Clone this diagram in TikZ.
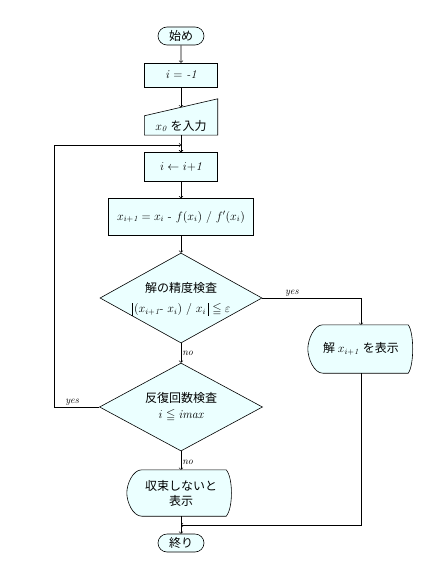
\documentclass[tikz,border=0pt]{standalone}
\usepackage{amsmath}
\usepackage{amssymb}
\usepackage{fontspec}
\newfontfamily\jp{Noto Sans CJK JP}
\usetikzlibrary{shapes.geometric,shapes.misc}
\usetikzlibrary{positioning}
\definecolor{boxfill}{RGB}{235,255,255}
\newcommand{\absbar}{\rule[-3.5pt]{0.5pt}{13pt}}
\tikzset{
  flow/.style={line width=0.6pt},
  arr/.style={flow,-to},
  procbox/.style={draw,flow,fill=boxfill,rectangle,inner sep=0pt},
  termbox/.style={draw,flow,fill=boxfill,rounded rectangle,inner sep=0pt,minimum width=46pt,minimum height=18pt},
  testbox/.style={draw,flow,fill=boxfill,diamond,inner sep=0pt,align=center},
  hidbox/.style={inner sep=0pt,align=center},
  lbl/.style={font=\fontsize{10}{12}\selectfont\itshape,inner sep=1pt}
}

\begin{document}
\begin{tikzpicture}[x=1pt,y=1pt,font=\fontsize{12}{15}\selectfont]
          \useasboundingbox (0,0) rectangle (442,-580);
          % column of steps
          \node[termbox] (start) at (181,-36){\jp 始め};
          \node[procbox, minimum width=73pt, minimum height=24pt] (init) at (181,-75){\textit{i} = \textit{-1}};
          \node[hidbox, minimum width=73pt, minimum height=36pt] (inp) at (181,-117){};
          \draw[flow, fill=boxfill] (inp.south west) -- ([yshift=-17pt]inp.north west) -- (inp.north east) -- (inp.south east) -- cycle;
          \node[hidbox] (inptxt) at (181,-126){$x_{\mathit{0}}$ {\jp を入力}};
          \coordinate (join) at (181,-145);
          \node[procbox, minimum width=73pt, minimum height=29pt] (incr) at (181,-167){$i \leftarrow i{+}\mathit{1}$};
          \node[procbox, minimum width=145pt, minimum height=37pt] (newton) at (181,-217){$x_{i+\mathit{1}} = x_i$ - $f(x_i)$ / $f'(x_i)$};
          \node[testbox, minimum width=162pt, minimum height=90pt] (chk1) at (181,-298){};
          \node[hidbox] (chk1txt) at (181,-299){{\jp 解の精度検査}\\[5pt]\absbar\,$(x_{i+\mathit{1}}$- $x_i)$ / $x_i$\,\absbar\ $\leqq \varepsilon$};
          \node[testbox, minimum width=163pt, minimum height=88pt] (chk2) at (181,-407){};
          \node[hidbox] (chk2txt) at (181,-407){{\jp 反復回数検査}\\[1pt]$i \leqq \mathit{imax}$};
          \node[hidbox, minimum width=106pt, minimum height=48pt] (ok) at (361,-349){};
          \node[hidbox, minimum width=108pt, minimum height=46pt] (ng) at (181,-493){};
          \node[termbox] (stop) at (181,-543){\jp 終り};
          \coordinate (merge) at (181,-525);
          % display shapes
          \draw[flow, fill=boxfill] ([xshift=15pt]ok.north west) -- ([xshift=-6pt]ok.north east)
            .. controls +(6,-8) and +(6,8) .. ([xshift=-6pt]ok.south east)
            -- ([xshift=15pt]ok.south west)
            .. controls +(-9,0) and +(0,-9) .. (ok.west)
            .. controls +(0,9) and +(-9,0) .. cycle;
          \node[hidbox] (oktxt) at (ok) {\jp 解 \rm$x_{i+\mathit{1}}$ \jp を表示};
          \draw[flow, fill=boxfill] ([xshift=15pt]ng.north west) -- ([xshift=-9pt]ng.north east)
            .. controls +(7,-8) and +(7,8) .. ([xshift=-9pt]ng.south east)
            -- ([xshift=15pt]ng.south west)
            .. controls +(-9,0) and +(0,-9) .. (ng.west)
            .. controls +(0,9) and +(-9,0) .. cycle;
          \node[hidbox] (ngtxt) at (ng) {\jp 収束しないと\\\jp 表示};
          % connectors
          \draw[arr] (start) -- (init);
          \draw[arr] (init) -- ([yshift=-8.5pt]inp.north);
          \draw[arr] (inp) -- (incr);
          \draw[arr] (join) -- (incr);
          \draw[arr] (incr) -- (newton);
          \draw[arr] (newton) -- (chk1);
          \draw[arr] (chk1.east) -| node[lbl, pos=0.15, above]{yes} (ok.north);
          \draw[arr] (chk1) -- node[lbl, right]{no} (chk2);
          \draw[arr] (chk2.west) -| node[lbl, pos=0.3, above]{yes} (54,-145) -- (join);
          \draw[arr] (chk2) -- node[lbl, right, pos=0.6]{no} (ng);
          \draw[arr] (ok.south) |- (merge);
          \draw[arr] (ng) -- (stop);
        \end{tikzpicture}
\end{document}
